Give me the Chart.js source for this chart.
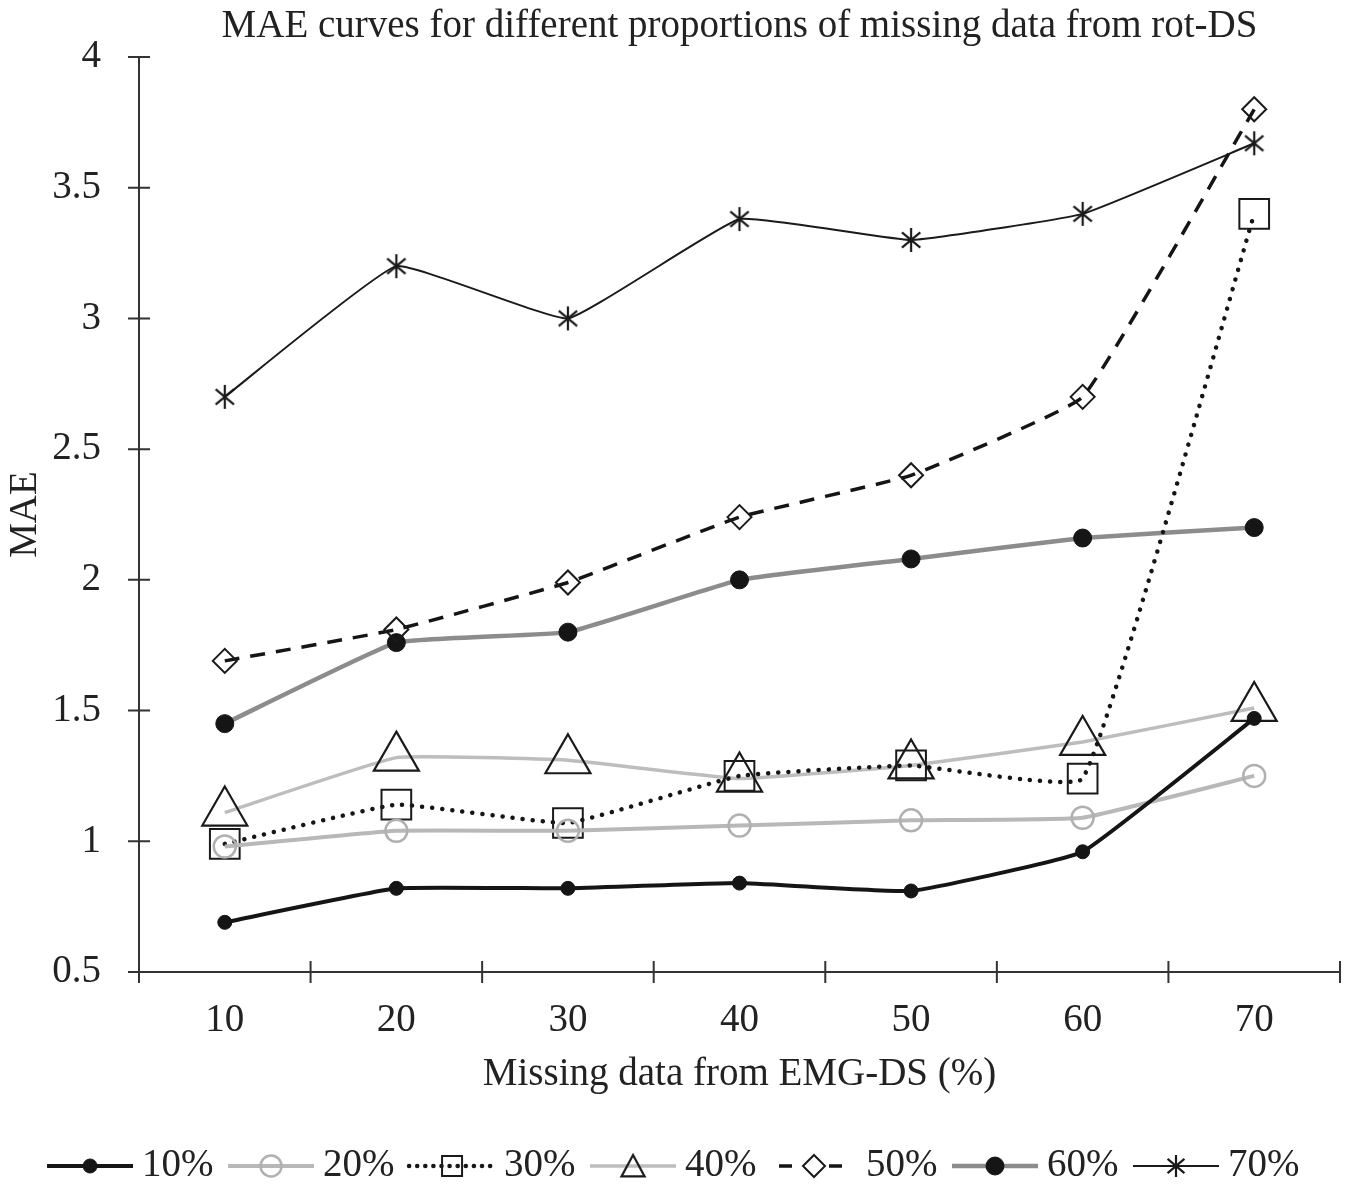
<!DOCTYPE html>
<html>
<head>
<meta charset="utf-8">
<script src="https://cdn.jsdelivr.net/npm/chart.js@4.4.1/dist/chart.umd.min.js"></script>
<style>
  html, body { margin: 0; padding: 0; background: #fff; }
  canvas { display: block; }
</style>
</head>
<body>
<canvas id="maeChart" width="1355" height="1188"></canvas>
<script>
// values
const categories = ['10', '20', '30', '40', '50', '60', '70'];
const seriesNames = ['10%', '20%', '30%', '40%', '50%', '60%', '70%'];
const mae10 = [0.69, 0.82, 0.82, 0.84, 0.81, 0.96, 1.47];
const mae20 = [0.98, 1.04, 1.04, 1.06, 1.08, 1.09, 1.25];
const mae30 = [0.99, 1.14, 1.07, 1.25, 1.29, 1.24, 3.40];
const mae40 = [1.11, 1.32, 1.31, 1.24, 1.29, 1.38, 1.51];
const mae50 = [1.69, 1.81, 1.99, 2.24, 2.40, 2.70, 3.80];
const mae60 = [1.45, 1.76, 1.80, 2.00, 2.08, 2.16, 2.20];
const mae70 = [2.70, 3.20, 3.00, 3.38, 3.30, 3.40, 3.67];
const yTickValues = [0.5, 1, 1.5, 2, 2.5, 3, 3.5, 4];
const yTickLabels = ['0.5', '1', '1.5', '2', '2.5', '3', '3.5', '4'];

const textColor = '#222';
const axisColor = '#333';
const serif = "'Liberation Serif', 'Times New Roman', serif";
const fontSize = 39;

// drawing styles for each series
const styles = [
  { line: '#151515', width: 4, dash: [], legendDash: [], marker: 'circle', size: 7, legendSize: 7, fill: '#151515', stroke: '#151515', mw: 1 },
  { line: '#b8b8b8', width: 4, dash: [], legendDash: [], marker: 'circle', size: 11, legendSize: 10.5, fill: 'rgba(0,0,0,0)', stroke: '#b0b0b0', mw: 2.5 },
  { line: '#151515', width: 4.5, dash: [0.1, 10], legendDash: [0.1, 8], marker: 'rect', size: 21, legendSize: 10, fill: 'rgba(0,0,0,0)', stroke: '#1a1a1a', mw: 2 },
  { line: '#bdbdbd', width: 3.5, dash: [], legendDash: [], marker: 'triangle', size: 26, legendSize: 11, fill: 'rgba(0,0,0,0)', stroke: '#1a1a1a', mw: 2.2 },
  { line: '#151515', width: 3.5, dash: [15, 11], legendDash: [13, 37], marker: 'rectRot', size: 12, legendSize: 11, fill: 'rgba(0,0,0,0)', stroke: '#1a1a1a', mw: 2 },
  { line: '#8c8c8c', width: 4.5, dash: [], legendDash: [], marker: 'circle', size: 9, legendSize: 9, fill: '#151515', stroke: '#151515', mw: 1 },
  { line: '#1a1a1a', width: 2, dash: [], legendDash: [], marker: 'asterisk', size: 12, legendSize: 11, fill: 'rgba(0,0,0,0)', stroke: '#1a1a1a', mw: 2.2 }
];
const seriesValues = [mae10, mae20, mae30, mae40, mae50, mae60, mae70];

function isDotted(d) { return d.length > 0 && d[0] < 1; }

function drawMarker(g, st, x, y, r) {
  g.save();
  g.strokeStyle = st.stroke;
  g.fillStyle = st.fill;
  g.lineWidth = st.mw;
  g.setLineDash([]);
  g.beginPath();
  if (st.marker === 'circle') {
    g.arc(x, y, r, 0, Math.PI * 2);
  } else if (st.marker === 'rect') {
    g.rect(x - r, y - r, 2 * r, 2 * r);
  } else if (st.marker === 'triangle') {
    g.moveTo(x, y - r);
    g.lineTo(x + r * 1.05, y + r * 0.95);
    g.lineTo(x - r * 1.05, y + r * 0.95);
    g.closePath();
  } else if (st.marker === 'rectRot') {
    g.moveTo(x - r, y); g.lineTo(x, y - r); g.lineTo(x + r, y); g.lineTo(x, y + r);
    g.closePath();
  } else if (st.marker === 'asterisk') {
    g.moveTo(x, y - r); g.lineTo(x, y + r);
    const a = 40 * Math.PI / 180;
    g.moveTo(x - r * Math.cos(a), y - r * Math.sin(a)); g.lineTo(x + r * Math.cos(a), y + r * Math.sin(a));
    g.moveTo(x - r * Math.cos(a), y + r * Math.sin(a)); g.lineTo(x + r * Math.cos(a), y - r * Math.sin(a));
  }
  g.fill();
  g.stroke();
  g.restore();
}

function asteriskCanvas(r) {
  const c = document.createElement('canvas');
  c.width = c.height = Math.ceil(2 * r + 6);
  drawMarker(c.getContext('2d'), styles[6], c.width / 2, c.height / 2, r);
  return c;
}

// legend samples: line piece with the marker in the middle
const sampleShift = 17, sampleLen = 86;
function legendSample(st) {
  const c = document.createElement('canvas');
  c.width = sampleShift + sampleLen;
  c.height = 40;
  const g = c.getContext('2d');
  const cy = c.height / 2;
  g.strokeStyle = st.line;
  g.lineWidth = st.width;
  g.lineCap = isDotted(st.legendDash) ? 'round' : 'butt';
  g.setLineDash(st.legendDash);
  if (st.legendDash.length && !isDotted(st.legendDash)) g.lineDashOffset = -8;
  g.beginPath();
  g.moveTo(sampleShift, cy);
  g.lineTo(sampleShift + sampleLen, cy);
  g.stroke();
  drawMarker(g, st, sampleShift + sampleLen / 2, cy, st.legendSize);
  return c;
}
const legendSamples = styles.map(legendSample);

const crossTicks = {
  id: 'crossTicks',
  beforeDatasetsDraw(chart) {
    const { ctx, chartArea, scales: { x, y } } = chart;
    ctx.save();
    ctx.strokeStyle = axisColor;
    ctx.lineWidth = 2;
    ctx.beginPath();
    y.ticks.forEach((t, i) => {
      const py = y.getPixelForTick(i);
      ctx.moveTo(chartArea.left - 11, py);
      ctx.lineTo(chartArea.left + 11, py);
    });
    for (let i = 0; i <= categories.length; i++) {
      const px = x.getPixelForValue(i - 0.5);
      ctx.moveTo(px, chartArea.bottom - 11);
      ctx.lineTo(px, chartArea.bottom + 11);
    }
    ctx.stroke();
    ctx.restore();
  }
};

const datasets = seriesValues.map((vals, i) => {
  const st = styles[i];
  return {
    label: seriesNames[i],
    data: vals,
    borderColor: st.line,
    borderWidth: st.width,
    borderDash: st.dash,
    borderCapStyle: isDotted(st.dash) ? 'round' : 'butt',
    tension: 0.1,
    fill: false,
    clip: false,
    pointStyle: st.marker === 'asterisk' ? asteriskCanvas(st.size) : st.marker,
    pointRadius: st.size,
    pointHoverRadius: st.size,
    pointBackgroundColor: st.fill,
    pointBorderColor: st.stroke,
    pointBorderWidth: st.mw
  };
});

new Chart(document.getElementById('maeChart'), {
  type: 'line',
  data: { labels: categories, datasets: datasets },
  options: {
    responsive: false,
    animation: false,
    devicePixelRatio: 1,
    layout: { autoPadding: false, padding: { left: 0, right: 15, top: 0, bottom: -7.5 } },
    plugins: {
      tooltip: { enabled: false },
      title: {
        display: true,
        fullSize: false,
        text: 'MAE curves for different proportions of missing data from rot-DS',
        color: textColor,
        font: { family: serif, size: fontSize, weight: 'normal' },
        padding: { top: 3.5, bottom: 6.7 }
      },
      legend: {
        position: 'bottom',
        labels: {
          usePointStyle: true,
          pointStyleWidth: 82,
          padding: 8,
          color: textColor,
          font: { family: serif, size: fontSize },
          generateLabels: chart => chart.data.datasets.map((ds, i) => ({
            text: ds.label,
            pointStyle: legendSamples[i],
            fontColor: textColor,
            fillStyle: 'rgba(0,0,0,0)',
            strokeStyle: 'rgba(0,0,0,0)',
            lineWidth: 0,
            hidden: !chart.isDatasetVisible(i),
            datasetIndex: i
          }))
        }
      }
    },
    scales: {
      x: {
        offset: true,
        grid: { display: false, drawTicks: false },
        border: { display: true, color: axisColor, width: 2 },
        ticks: { color: textColor, font: { family: serif, size: fontSize }, padding: 25, maxRotation: 0 },
        title: {
          display: true,
          text: 'Missing data from EMG-DS (%)',
          color: textColor,
          font: { family: serif, size: fontSize },
          padding: { top: 4, bottom: 40 }
        },
        afterFit: s => { s.height = 166.5; s.paddingLeft = 0; s.paddingRight = 0; }
      },
      y: {
        min: 0.5,
        max: 4,
        grid: { display: false, drawTicks: false },
        border: { display: true, color: axisColor, width: 2 },
        afterBuildTicks: s => { s.ticks = yTickValues.map(v => ({ value: v })); },
        ticks: {
          color: textColor,
          font: { family: serif, size: fontSize },
          padding: 38,
          callback: (v, i) => yTickLabels[i]
        },
        title: {
          display: true,
          text: 'MAE',
          color: textColor,
          font: { family: serif, size: fontSize },
          padding: { top: 2, bottom: 4 }
        },
        afterFit: s => { s.width = 139; s.paddingTop = 0; s.paddingBottom = 0; }
      }
    }
  },
  plugins: [crossTicks]
});
</script>
</body>
</html>
